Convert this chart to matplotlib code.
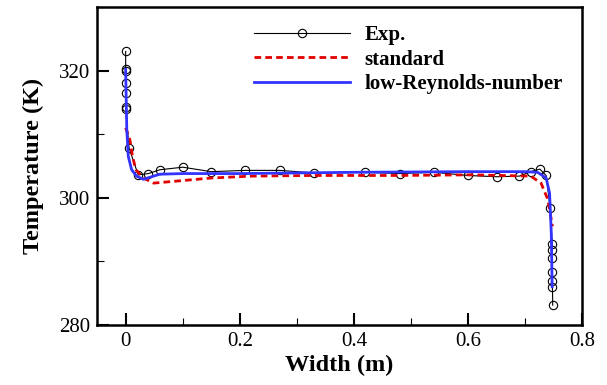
import numpy as np
import matplotlib
matplotlib.use('Agg')
import matplotlib.pyplot as plt
from matplotlib.ticker import MultipleLocator

plt.rcParams['font.family'] = ['Liberation Serif', 'DejaVu Serif']

# experimental points
exp_x = [0.0, 0.0, 0.0, 0.0, 0.0, 0.0, 0.0, 0.006, 0.022, 0.04, 0.06, 0.10,
         0.15, 0.21, 0.27, 0.33, 0.42, 0.48, 0.54, 0.60, 0.65, 0.69, 0.71,
         0.726, 0.737, 0.744, 0.7475, 0.7475, 0.7475, 0.7475, 0.7475, 0.748, 0.7485]
exp_y = [323.0, 320.3, 319.9, 318.1, 316.5, 314.3, 313.9, 307.8, 303.6, 303.8, 304.4,
         304.8, 304.1, 304.3, 304.3, 303.9, 304.0, 303.8, 304.0, 303.5, 303.3, 303.4,
         304.1, 304.5, 303.5, 298.4, 292.8, 291.8, 290.6, 288.4, 286.9, 285.9, 283.1]

# standard k-epsilon
std_x = [0.0, 0.0075, 0.012, 0.018, 0.031, 0.049, 0.10, 0.15, 0.22, 0.33, 0.476,
         0.605, 0.71, 0.728, 0.74, 0.748]
std_y = [311.0, 309.1, 306.5, 304.4, 303.1, 302.3, 302.7, 303.1, 303.4, 303.5, 303.5,
         303.6, 303.4, 302.3, 299.7, 295.5]

# low-Reynolds-number model
lr_x = [0.0, 0.002, 0.0046, 0.0105, 0.019, 0.031, 0.049, 0.06, 0.10, 0.2, 0.4,
        0.6, 0.7, 0.722, 0.737, 0.743, 0.746, 0.7475]
lr_y = [320.2, 310.7, 306.5, 304.4, 303.4, 302.9, 303.4, 303.7, 303.8, 303.8, 304.0,
        304.1, 304.1, 304.0, 303.1, 300.7, 294.4, 286.0]

fig = plt.figure(figsize=(6.07, 3.85), dpi=100)
ax = fig.add_axes([0.160, 0.156, 0.799, 0.826])

ax.plot(exp_x, exp_y, c='k', lw=0.8, marker='o', ms=6, mfc='none', mec='k',
        mew=0.8, label='Exp.')
ax.plot(std_x, std_y, c='#e00000', lw=2.0, ls=(0, (2.4, 1.5)), label='standard')
ax.plot(lr_x, lr_y, c='#3333ff', lw=2.0, label='low-Reynolds-number')

ax.set_xlim(-0.05, 0.8)
ax.set_ylim(280, 330)
ax.xaxis.set_minor_locator(MultipleLocator(0.1))
ax.yaxis.set_major_locator(MultipleLocator(20))
ax.yaxis.set_minor_locator(MultipleLocator(10))
ax.set_xticks([0, 0.2, 0.4, 0.6, 0.8])
ax.set_xticklabels(['0', '0.2', '0.4', '0.6', '0.8'])

ax.tick_params(which='major', direction='in', length=8.5, width=1.5,
               labelsize=15, pad=5)
ax.tick_params(which='minor', direction='in', length=5, width=0.8)
for s in ax.spines.values():
    s.set_linewidth(1.8)

ax.set_xlabel('Width (m)', fontsize=17.5, fontweight='bold', labelpad=3)
ax.set_ylabel('Temperature (K)', fontsize=17.5, fontweight='bold', labelpad=11)

ax.legend(loc='upper left', bbox_to_anchor=(0.307, 0.969), frameon=False,
          prop={'weight': 'bold', 'size': 15}, handlelength=4.6,
          handletextpad=0.7, labelspacing=0.22, borderaxespad=0, numpoints=1)

fig.savefig('out.png', dpi=100)
